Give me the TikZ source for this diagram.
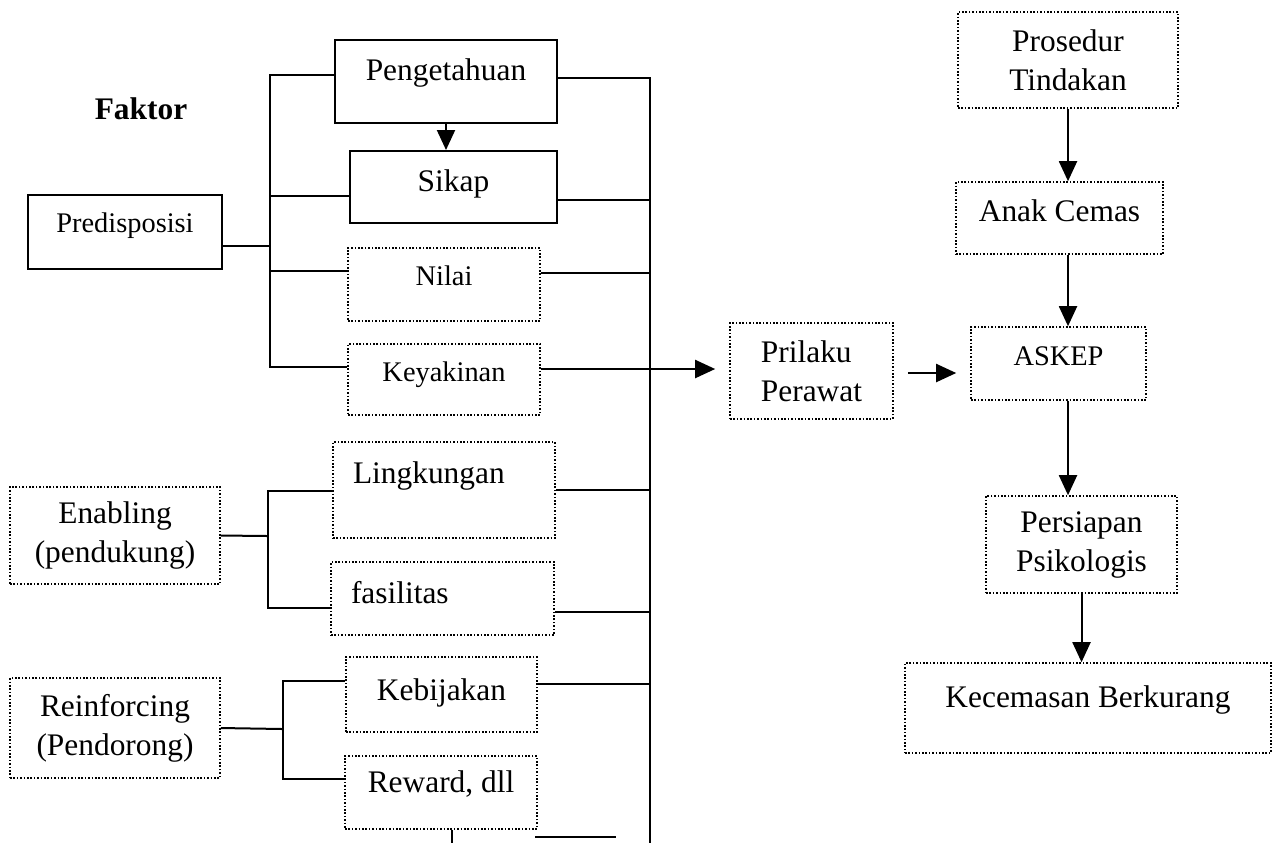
\documentclass[tikz,border=0pt]{standalone}
\usepackage{fontspec}
\setmainfont{Liberation Serif}
\usepackage{tikz}
\usetikzlibrary{arrows.meta}
\newcommand{\diagfont}{\fontsize{15.7}{19.5}\selectfont}
\newcommand{\diagsmall}{\fontsize{14.2}{17}\selectfont}

\begin{document}
\begin{tikzpicture}[x=0.5pt, y=-0.5pt,
    solidbox/.style={rectangle, draw, line width=1pt, font=\diagfont, inner sep=2pt},
    dotbox/.style={rectangle, draw, line width=0.8pt, dash pattern=on 0.8pt off 0.9pt,
        font=\diagfont, inner sep=2pt},
    lift/.style={text height=11pt, text depth=#1},
    link/.style={line width=1pt},
    arr/.style={-{Triangle[length=10pt, width=9pt]}, line width=1pt}
]
    \useasboundingbox (0,0) rectangle (1277,843);

    \node[font=\diagfont\bfseries] (faktor) at (141,109) {Faktor};

    % predisposisi
    \node[solidbox, lift=12.1pt, minimum width=111pt, minimum height=41.5pt] (peng) at (446,81.5) {Pengetahuan};
    \node[solidbox, lift=6.6pt, minimum width=103.5pt, minimum height=36pt] (sikap) at (453.5,187) {Sikap};
    \node[solidbox, lift=10.6pt, font=\diagsmall, minimum width=97pt, minimum height=37pt] (predis) at (125,232) {Predisposisi};
    \node[dotbox, lift=10.1pt, font=\diagsmall, minimum width=96pt, minimum height=36.5pt] (nilai) at (444,284.5) {Nilai};
    \node[dotbox, lift=9.1pt, font=\diagsmall, minimum width=96pt, minimum height=35.5pt] (yakin) at (444,379.5) {Keyakinan};

    % enabling
    \node[dotbox, lift=17.6pt, minimum width=111pt, minimum height=48pt, text width=91pt, align=left, inner xsep=10pt] (lingk) at (444,490) {Lingkungan};
    \node[dotbox, lift=6.1pt, minimum width=111.5pt, minimum height=36.5pt, text width=91.5pt, align=left, inner xsep=10pt] (fasil) at (442.5,598.5) {fasilitas};
    \node[dotbox, align=center, minimum width=105pt, minimum height=48.5pt] (enab) at (115,535.5) {Enabling\\(pendukung)};

    % reinforcing
    \node[dotbox, lift=5.1pt, minimum width=95.5pt, minimum height=37.5pt] (kebij) at (441.5,694.5) {Kebijakan};
    \node[dotbox, lift=11.1pt, minimum width=96pt, minimum height=36.5pt] (reward) at (441,792.5) {Reward, dll};
    \node[dotbox, align=center, minimum width=105pt, minimum height=50pt] (reinf) at (115,728) {Reinforcing\\(Pendorong)};

    % right column
    \node[dotbox, align=left, minimum width=81.5pt, minimum height=48pt] (prilaku) at (811.5,371) {Prilaku\\Perawat};
    \node[dotbox, align=center, minimum width=110pt, minimum height=48pt] (prosedur) at (1068,60) {Prosedur\\Tindakan};
    \node[dotbox, lift=7.6pt, minimum width=103.5pt, minimum height=36pt] (cemas) at (1059.5,218) {Anak Cemas};
    \node[dotbox, lift=9.1pt, font=\diagsmall, minimum width=87.5pt, minimum height=36.5pt] (askep) at (1058.5,363.5) {ASKEP};
    \node[dotbox, align=center, minimum width=95.5pt, minimum height=48.5pt] (persiap) at (1081.5,544.5) {Persiapan\\Psikologis};
    \node[dotbox, lift=11.6pt, minimum width=183pt, minimum height=45pt] (kurang) at (1088,708) {Kecemasan Berkurang};

    \coordinate (pbus) at (270,246);
    \coordinate (ebus) at (268,536);
    \coordinate (rbus) at (283,729);
    \coordinate (obus) at (650,843);
    \coordinate (cutA) at (452,843);
    \coordinate (cutB) at (535,837);
    \coordinate (cutC) at (616,837);

    % left buses
    \draw[link] ([yshift=3.25pt]peng.west) -| (pbus);
    \draw[link] ([yshift=-4.5pt]sikap.west) -| (pbus);
    \draw[link] ([yshift=6.75pt]nilai.west) -| (pbus);
    \draw[link] ([yshift=6.25pt]yakin.west) -| (pbus);
    \draw[link] ([yshift=-7pt]predis.east) -- (pbus);

    \draw[link] ([yshift=-0.5pt]lingk.west) -| (ebus);
    \draw[link] ([yshift=-4.75pt]fasil.west) -| (ebus);
    \draw[link] (enab.east) -- (ebus);

    \draw[link] ([yshift=6.75pt]kebij.west) -| (rbus);
    \draw[link] ([yshift=6.75pt]reward.west) -| (rbus);
    \draw[link] (reinf.east) -- (rbus);

    % right bus
    \draw[link] ([yshift=1.75pt]peng.east) -| (obus);
    \draw[link] ([yshift=-6.5pt]sikap.east) -| (obus);
    \draw[link] ([yshift=5.75pt]nilai.east) -| (obus);
    \draw[link] ([yshift=5.25pt]yakin.east) -| (obus);
    \draw[link] (lingk.east) -| (obus);
    \draw[link] ([yshift=-6.75pt]fasil.east) -| (obus);
    \draw[link] ([yshift=5.25pt]kebij.east) -| (obus);
    \draw[link] (reward.south -| cutA) -- (cutA);
    \draw[link] (cutB) -- (cutC);

    % arrows
    \draw[arr] (peng.south) -- (peng.south |- sikap.north);
    \draw[arr, shorten >=7pt] ([yshift=5.25pt]yakin.east) -- ([yshift=5.25pt]yakin.east -| prilaku.west);
    \draw[arr, shorten <=7pt, shorten >=7pt] ([yshift=-1pt]prilaku.east) -- ([yshift=-1pt]prilaku.east -| askep.west);
    \draw[arr] (prosedur.south) -- (prosedur.south |- cemas.north);
    \draw[arr] (cemas.south -| prosedur.south) -- (askep.north -| prosedur.south);
    \draw[arr] (askep.south -| prosedur.south) -- (persiap.north -| prosedur.south);
    \draw[arr] (persiap.south) -- (persiap.south |- kurang.north);
\end{tikzpicture}
\end{document}
